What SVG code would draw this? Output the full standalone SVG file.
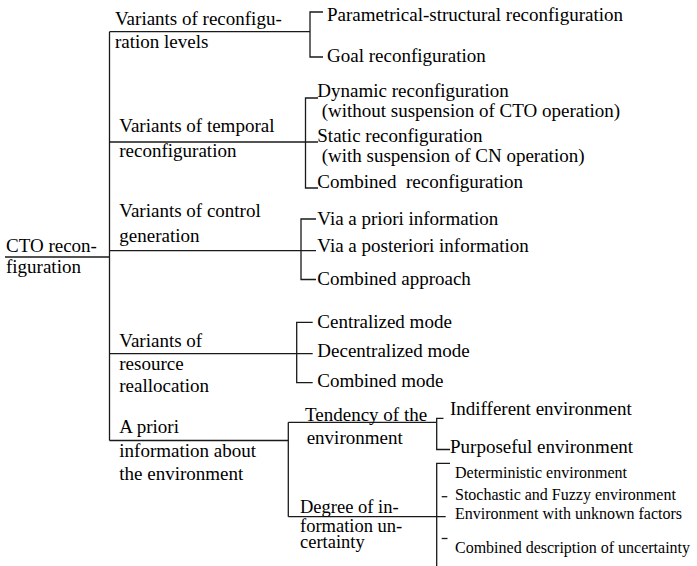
<svg xmlns="http://www.w3.org/2000/svg" width="697" height="566" viewBox="0 0 697 566">
  <rect width="697" height="566" fill="#ffffff"/>

  <!-- connectors: trunk, branches and brackets -->
  <g id="connectors" fill="none" stroke="#1a1a1a" stroke-width="1.3">
    <path d="M5,257 H109.5"/>
    <path d="M109.5,31.7 V440.5"/>
    <path d="M109.5,31.7 H310"/>
    <path d="M323,12 H310 V57 H323"/>
    <path d="M109.5,142 H318"/>
    <path d="M318,98 H305.5 V188 H318"/>
    <path d="M109.5,250.7 H316"/>
    <path d="M316,219 H301 V279.5 H316"/>
    <path d="M109.5,353.7 H312.7"/>
    <path d="M312.7,322.3 H296.7 V382.7 H312.7"/>
    <path d="M109.5,440.5 H288.3"/>
    <path d="M288.3,422.3 V516.7"/>
    <path d="M288.3,422.3 H436.7"/>
    <path d="M443.5,418.3 H436.7 V449.5 H450"/>
    <path d="M288.3,516.7 H445.7"/>
    <path d="M450,463.3 H436.7 V566"/>
    <path d="M441.7,496.7 H447.3"/>
    <path d="M441.7,538.5 H447.5"/>
  </g>

  <g id="root">
    <text x="6" y="251.7" style="font-family:'Liberation Serif',serif;font-size:19px">CTO recon-</text>
    <text x="6" y="273.3" style="font-family:'Liberation Serif',serif;font-size:19px">figuration</text>
  </g>

  <g id="levels">
    <text x="115" y="25" style="font-family:'Liberation Serif',serif;font-size:19px">Variants of reconfigu-</text>
    <text x="115" y="48" style="font-family:'Liberation Serif',serif;font-size:19px">ration levels</text>
  </g>
  <g id="levels-parametrical">
    <text x="327" y="20.5" style="font-family:'Liberation Serif',serif;font-size:19px">Parametrical-structural reconfiguration</text>
  </g>
  <g id="levels-goal">
    <text x="327" y="62" style="font-family:'Liberation Serif',serif;font-size:19px">Goal reconfiguration</text>
  </g>

  <g id="temporal">
    <text x="119.3" y="132.3" style="font-family:'Liberation Serif',serif;font-size:19px">Variants of temporal</text>
    <text x="119.3" y="156.7" style="font-family:'Liberation Serif',serif;font-size:19px">reconfiguration</text>
  </g>
  <g id="temporal-dynamic">
    <text x="317.3" y="96.7" style="font-family:'Liberation Serif',serif;font-size:19px">Dynamic reconfiguration</text>
    <text x="321.7" y="116.7" style="font-family:'Liberation Serif',serif;font-size:19px">(without suspension of CTO operation)</text>
  </g>
  <g id="temporal-static">
    <text x="317.3" y="141.7" style="font-family:'Liberation Serif',serif;font-size:19px">Static reconfiguration</text>
    <text x="321.7" y="161.7" style="font-family:'Liberation Serif',serif;font-size:19px">(with suspension of CN operation)</text>
  </g>
  <g id="temporal-combined">
    <text x="317.3" y="188.3" style="font-family:'Liberation Serif',serif;font-size:19px">Combined&#160; reconfiguration</text>
  </g>

  <g id="control">
    <text x="119.3" y="217.3" style="font-family:'Liberation Serif',serif;font-size:19px">Variants of control</text>
    <text x="119.3" y="241.7" style="font-family:'Liberation Serif',serif;font-size:19px">generation</text>
  </g>
  <g id="control-apriori">
    <text x="317.3" y="225" style="font-family:'Liberation Serif',serif;font-size:19px">Via a priori information</text>
  </g>
  <g id="control-aposteriori">
    <text x="317.3" y="252.3" style="font-family:'Liberation Serif',serif;font-size:19px">Via a posteriori information</text>
  </g>
  <g id="control-combined">
    <text x="317.3" y="285" style="font-family:'Liberation Serif',serif;font-size:19px">Combined approach</text>
  </g>

  <g id="resource">
    <text x="119.3" y="346.7" style="font-family:'Liberation Serif',serif;font-size:19px">Variants of</text>
    <text x="119.3" y="370" style="font-family:'Liberation Serif',serif;font-size:19px">resource</text>
    <text x="119.3" y="391.7" style="font-family:'Liberation Serif',serif;font-size:19px">reallocation</text>
  </g>
  <g id="resource-centralized">
    <text x="317.3" y="328.3" style="font-family:'Liberation Serif',serif;font-size:19px">Centralized mode</text>
  </g>
  <g id="resource-decentralized">
    <text x="317.3" y="356.7" style="font-family:'Liberation Serif',serif;font-size:19px">Decentralized mode</text>
  </g>
  <g id="resource-combined">
    <text x="317.3" y="386.7" style="font-family:'Liberation Serif',serif;font-size:19px">Combined mode</text>
  </g>

  <g id="environment">
    <text x="119.3" y="432.7" style="font-family:'Liberation Serif',serif;font-size:19px">A priori</text>
    <text x="119.3" y="457.3" style="font-family:'Liberation Serif',serif;font-size:19px">information about</text>
    <text x="119.3" y="480" style="font-family:'Liberation Serif',serif;font-size:19px">the environment</text>
  </g>
  <g id="tendency">
    <text x="305" y="420.5" style="font-family:'Liberation Serif',serif;font-size:19px">Tendency of the</text>
    <text x="306.7" y="443.5" style="font-family:'Liberation Serif',serif;font-size:19px">environment</text>
  </g>
  <g id="tendency-indifferent">
    <text x="450" y="415" style="font-family:'Liberation Serif',serif;font-size:19px">Indifferent environment</text>
  </g>
  <g id="tendency-purposeful">
    <text x="450" y="453.3" style="font-family:'Liberation Serif',serif;font-size:19px">Purposeful environment</text>
  </g>
  <g id="uncertainty">
    <text x="300" y="513.3" style="font-family:'Liberation Serif',serif;font-size:18.5px">Degree of in-</text>
    <text x="300" y="531.7" style="font-family:'Liberation Serif',serif;font-size:18.5px">formation un-</text>
    <text x="300" y="548.3" style="font-family:'Liberation Serif',serif;font-size:18.5px">certainty</text>
  </g>
  <g id="uncertainty-deterministic">
    <text x="455" y="478.3" style="font-family:'Liberation Serif',serif;font-size:16px">Deterministic environment</text>
  </g>
  <g id="uncertainty-stochastic">
    <text x="455" y="500" style="font-family:'Liberation Serif',serif;font-size:16px">Stochastic and Fuzzy environment</text>
  </g>
  <g id="uncertainty-unknown">
    <text x="455" y="519.3" style="font-family:'Liberation Serif',serif;font-size:16px">Environment with unknown factors</text>
  </g>
  <g id="uncertainty-combined">
    <text x="455" y="552.7" style="font-family:'Liberation Serif',serif;font-size:16px">Combined description of uncertainty</text>
  </g>
</svg>
